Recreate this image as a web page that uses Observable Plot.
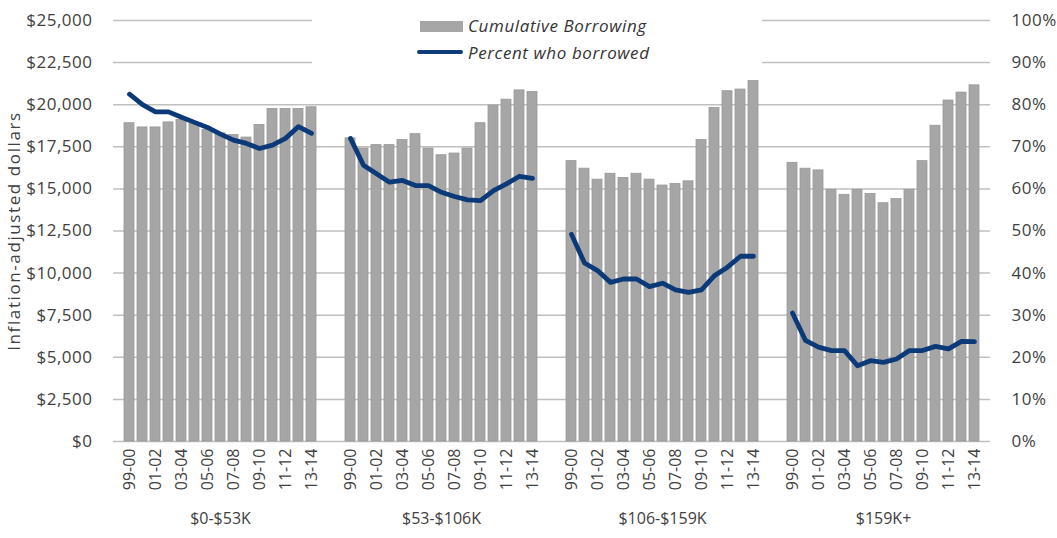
<!DOCTYPE html>
<html>
<head>
<meta charset="utf-8">
<script src="https://cdn.jsdelivr.net/npm/d3@7"></script>
<script src="https://cdn.jsdelivr.net/npm/@observablehq/plot@0.6"></script>
<style>
  body { margin: 0; background: #fff; font-family: "Open Sans", sans-serif; }
  #wrap { position: relative; width: 1057px; height: 538px; overflow: hidden; }
  #legend { position: absolute; left: 312px; top: 0; width: 450px; height: 80px; background: #fff; }
  #legend .sw { position: absolute; }
  #legend .t { position: absolute; font-style: italic; font-size: 17px; letter-spacing: 0.6px; color: #333; line-height: 20px; white-space: nowrap; }
  #chart g[aria-label="y-axis label"] text { letter-spacing: 1.6px; font-size: 17px; }
  #chart g[aria-label="y-axis tick label"] text { letter-spacing: 0.5px; }
</style>
</head>
<body>
<div id="wrap">
  <div id="chart"></div>
  <div id="legend">
    <div class="sw" style="left:108px;top:21px;width:43px;height:11px;background:#a6a6a6;"></div>
    <div class="t" style="left:156px;top:16px;">Cumulative Borrowing</div>
    <div class="sw" style="left:105px;top:50px;width:46px;height:4px;background:#0e3c79;border-radius:2px;"></div>
    <div class="t" style="left:156px;top:43px;">Percent who borrowed</div>
  </div>
</div>
<script>
const years = ["99-00","00-01","01-02","02-03","03-04","04-05","05-06","06-07","07-08","08-09","09-10","10-11","11-12","12-13","13-14"];
const groups = ["$0-$53K", "$53-$106K", "$106-$159K", "$159K+"];

// Cumulative borrowing (inflation-adjusted dollars)
const borrow0 = [18900, 18650, 18650, 18950, 19100, 18850, 18500, 18300, 18200, 18050, 18800, 19750, 19750, 19750, 19850];
const borrow1 = [18000, 17400, 17600, 17600, 17900, 18250, 17400, 17000, 17100, 17400, 18900, 19950, 20300, 20850, 20750];
const borrow2 = [16650, 16200, 15550, 15900, 15650, 15900, 15550, 15200, 15300, 15450, 17900, 19800, 20800, 20900, 21500];
const borrow3 = [16550, 16200, 16100, 14950, 14650, 14950, 14700, 14150, 14400, 14950, 16650, 18750, 20250, 20720, 21150];

// Percent who borrowed
const pct0 = [82.5, 80, 78.3, 78.3, 77, 75.8, 74.6, 73, 71.6, 70.8, 69.6, 70.4, 72, 74.8, 73.2];
const pct1 = [72, 65.6, 63.6, 61.6, 62, 60.8, 60.8, 59.2, 58.2, 57.4, 57.2, 59.6, 61.2, 63, 62.5];
const pct2 = [49.2, 42.4, 40.6, 37.8, 38.6, 38.6, 36.8, 37.6, 36, 35.4, 36, 39.4, 41.4, 44, 44];
const pct3 = [30.5, 24, 22.4, 21.6, 21.6, 18, 19.2, 18.8, 19.6, 21.6, 21.6, 22.6, 22, 23.8, 23.7];

const yTicks = [0, 2500, 5000, 7500, 10000, 12500, 15000, 17500, 20000, 22500, 25000];
const shownYears = ["99-00","01-02","03-04","05-06","07-08","09-10","11-12","13-14"];

const borrows = [borrow0, borrow1, borrow2, borrow3];
const pcts = [pct0, pct1, pct2, pct3];

const rows = [];
const domain = [];
groups.forEach((g, gi) => {
  if (gi > 0) { domain.push(`gap${gi}a`, `gap${gi}b`); }
  years.forEach((yr, i) => {
    const key = `${gi}|${yr}`;
    domain.push(key);
    rows.push({key, group: g, year: yr, borrow: borrows[gi][i], pct: pcts[gi][i]});
  });
});
const tickKeys = [];
groups.forEach((g, gi) => shownYears.forEach(y => tickKeys.push(`${gi}|${y}`)));
const yearOf = k => k.split("|")[1];

const ink = "#404040";
const chart = Plot.plot({
  width: 1057,
  height: 538,
  marginTop: 20,
  marginBottom: 97,
  marginLeft: 113,
  marginRight: 67,
  style: { fontFamily: "Open Sans, sans-serif", fontSize: "16px", color: ink, background: "#fff" },
  x: { domain, paddingInner: 0.22, paddingOuter: 0.23, axis: null },
  y: { domain: [0, 25000], axis: null },
  marks: [
    Plot.gridY(yTicks, { stroke: "#bfbfbf", strokeOpacity: 1, strokeWidth: 1.5 }),
    Plot.barY(rows, { x: "key", y: "borrow", fill: "#a6a6a6", stroke: "#999999", strokeWidth: 0.8 }),
    Plot.lineY(rows, { x: "key", y: d => d.pct * 250, z: "group", stroke: "#0c3a78", strokeWidth: 4.8, strokeLinejoin: "round", strokeLinecap: "round" }),
    Plot.axisY(yTicks, {
      anchor: "left", tickSize: 0, tickPadding: 21, fontSize: 17,
      tickFormat: d => "$" + d3.format(",")(d),
      label: "Inflation-adjusted dollars", labelAnchor: "center", labelOffset: 106, labelArrow: "none"
    }),
    Plot.axisY(yTicks, {
      anchor: "right", tickSize: 0, tickPadding: 21, fontSize: 17,
      tickFormat: d => Math.round(d / 250) + "%", label: null
    }),
    Plot.axisX(tickKeys, {
      tickSize: 0, tickRotate: -90, tickPadding: 7, fontSize: 16,
      tickFormat: yearOf, label: null
    }),
    Plot.text(groups, {
      x: (g, i) => `${i}|${years[7]}`, frameAnchor: "bottom", dy: 82,
      text: d => d, fontSize: 16, fill: ink
    })
  ]
});
document.getElementById("chart").appendChild(chart);
</script>
</body>
</html>
